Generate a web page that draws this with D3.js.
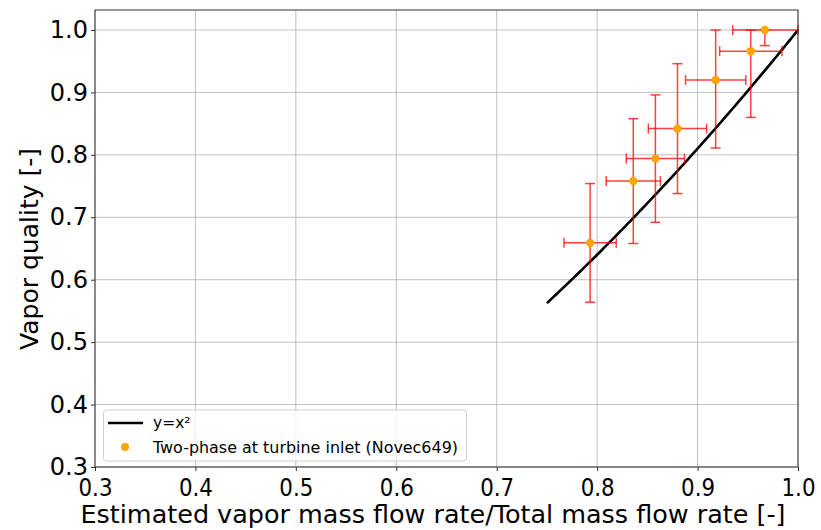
<!DOCTYPE html>
<html>
<head>
<meta charset="utf-8">
<script src="https://cdn.jsdelivr.net/npm/d3@7"></script>
<style>
  body { margin: 0; background: #fff; }
  text { font-family: "DejaVu Sans", sans-serif; }
</style>
</head>
<body>
<script>
// maalinger
const xVals    = [0.793, 0.836, 0.858, 0.880, 0.918, 0.953, 0.967];
const yVals    = [0.659, 0.758, 0.794, 0.842, 0.920, 0.966, 1.000];
const xErrLow  = [0.026, 0.027, 0.029, 0.029, 0.030, 0.031, 0.032];
const xErrHigh = [0.026, 0.027, 0.029, 0.029, 0.030, 0.031, 0.033];
const yErrLow  = [0.095, 0.100, 0.102, 0.104, 0.109, 0.106, 0.025];
const yErrHigh = [0.095, 0.100, 0.102, 0.104, 0.080, 0.034, 0.000];
const tickVals = [0.3, 0.4, 0.5, 0.6, 0.7, 0.8, 0.9, 1.0];
const curveStart = 0.75, curveEnd = 1.0;

const width = 821, height = 530;
const margin = { top: 10, right: 23, bottom: 63, left: 95 };

const svg = d3.select("body").append("svg").attr("width", width).attr("height", height);

const x = d3.scaleLinear().domain([0.3, 1.0]).range([margin.left, width - margin.right]);
const y = d3.scaleLinear().domain([0.3, 1.032]).range([height - margin.bottom, margin.top]);

// gitter
svg.append("g").selectAll("line").data(tickVals).enter().append("line")
  .attr("x1", d => x(d)).attr("x2", d => x(d))
  .attr("y1", y.range()[0]).attr("y2", y.range()[1])
  .attr("stroke", "#b0b0b0").attr("stroke-width", 0.8);
svg.append("g").selectAll("line").data(tickVals).enter().append("line")
  .attr("y1", d => y(d)).attr("y2", d => y(d))
  .attr("x1", x.range()[0]).attr("x2", x.range()[1])
  .attr("stroke", "#b0b0b0").attr("stroke-width", 0.8);

// y=x^2 kurve
const curvePts = d3.range(0, 101).map(i => curveStart + (curveEnd - curveStart) * i / 100);
svg.append("path")
  .datum(curvePts)
  .attr("d", d3.line().x(d => x(d)).y(d => y(d * d)))
  .attr("fill", "none").attr("stroke", "#000").attr("stroke-width", 2.6);

// fejlsøjler
const pts = xVals.map((v, i) => ({ x: v, y: yVals[i], xl: xErrLow[i], xh: xErrHigh[i], yl: yErrLow[i], yh: yErrHigh[i] }));
const errCol = "rgba(255,0,0,0.75)";
const eb = svg.append("g").attr("stroke", errCol).attr("stroke-width", 1.5);
pts.forEach(p => {
  eb.append("line").attr("x1", x(p.x - p.xl)).attr("x2", x(p.x + p.xh)).attr("y1", y(p.y)).attr("y2", y(p.y));
  eb.append("line").attr("x1", x(p.x)).attr("x2", x(p.x)).attr("y1", y(p.y - p.yl)).attr("y2", y(p.y + p.yh));
  [p.x - p.xl, p.x + p.xh].forEach(v =>
    eb.append("line").attr("x1", x(v)).attr("x2", x(v)).attr("y1", y(p.y) - 5).attr("y2", y(p.y) + 5));
  [p.y - p.yl, p.y + p.yh].forEach(v =>
    eb.append("line").attr("y1", y(v)).attr("y2", y(v)).attr("x1", x(p.x) - 5).attr("x2", x(p.x) + 5));
});
svg.append("g").selectAll("circle").data(pts).enter().append("circle")
  .attr("cx", d => x(d.x)).attr("cy", d => y(d.y)).attr("r", 4.2)
  .attr("fill", "orange");

// akser
const xAxis = svg.append("g").attr("transform", `translate(0,${y.range()[0]})`)
  .call(d3.axisBottom(x).tickValues(tickVals).tickFormat(d3.format(".1f")).tickSizeInner(4).tickSizeOuter(0));
xAxis.selectAll("text").attr("font-size", 24).attr("fill", "#000")
  .attr("dy", "0.9em")
  .attr("textLength", 34).attr("lengthAdjust", "spacingAndGlyphs");
const yAxis = svg.append("g").attr("transform", `translate(${x.range()[0]},0)`)
  .call(d3.axisLeft(y).tickValues(tickVals).tickFormat(d3.format(".1f")).tickSizeInner(4).tickSizeOuter(0));
yAxis.selectAll("text").attr("font-size", 24).attr("fill", "#000");
svg.selectAll(".domain").remove();
svg.selectAll(".tick line").attr("stroke", "#333");

// ramme
svg.append("rect")
  .attr("x", x.range()[0]).attr("y", y.range()[1])
  .attr("width", x.range()[1] - x.range()[0]).attr("height", y.range()[0] - y.range()[1])
  .attr("fill", "none").attr("stroke", "#333").attr("stroke-width", 1);

// aksetitler
svg.append("text").attr("x", 433).attr("y", 523).attr("text-anchor", "middle")
  .attr("font-size", 24).attr("textLength", 705).attr("lengthAdjust", "spacingAndGlyphs")
  .text("Estimated vapor mass flow rate/Total mass flow rate [-]");
svg.append("text").attr("transform", "translate(38,249) rotate(-90)").attr("text-anchor", "middle")
  .attr("font-size", 24).attr("textLength", 202).attr("lengthAdjust", "spacingAndGlyphs")
  .text("Vapor quality [-]");

// forklaring
const lg = svg.append("g");
lg.append("rect").attr("x", 103.5).attr("y", 410).attr("width", 363).attr("height", 51).attr("rx", 3)
  .attr("fill", "rgba(255,255,255,0.8)").attr("stroke", "#d0d0d0");
lg.append("line").attr("x1", 108).attr("x2", 143).attr("y1", 423).attr("y2", 423)
  .attr("stroke", "#000").attr("stroke-width", 2.6);
lg.append("text").attr("x", 153).attr("y", 428).attr("font-size", 15.5).text("y=x²");
lg.append("circle").attr("cx", 125).attr("cy", 447).attr("r", 4).attr("fill", "orange");
lg.append("text").attr("x", 153).attr("y", 452.5).attr("font-size", 15.5)
  .attr("textLength", 305).attr("lengthAdjust", "spacingAndGlyphs")
  .text("Two-phase at turbine inlet (Novec649)");
</script>
</body>
</html>
